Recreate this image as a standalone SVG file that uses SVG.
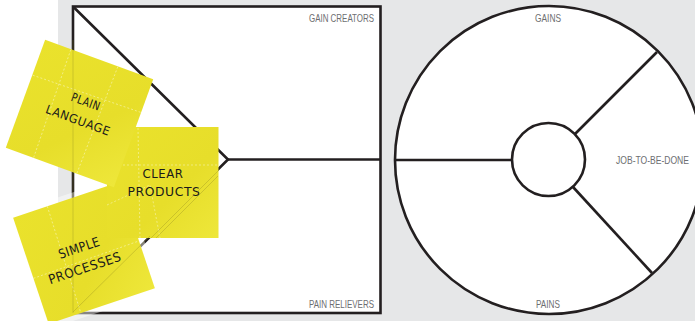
<svg xmlns="http://www.w3.org/2000/svg" width="695" height="321" viewBox="0 0 695 321">
  <defs>
    <style>
      .frame{fill:#fff;stroke:#231f20;stroke-width:2.6}
      .ln{fill:none;stroke:#231f20;stroke-width:2.6;stroke-linejoin:miter}
      .lbl{font-family:"Liberation Sans",Arial,sans-serif;font-size:11px;fill:#6d6e71}
      .hand{font-family:"DejaVu Sans Condensed","DejaVu Sans",sans-serif;font-size:12px;fill:#1a1a1a;letter-spacing:0.5px}
      .note{fill:url(#yel)}
      .halo{fill:#fff;opacity:0.45}
      .crease{fill:none;stroke:#fff;stroke-width:0.7;stroke-dasharray:2 2;opacity:0.55}
      .ghost{fill:none;stroke:#8a8420;stroke-width:0.8;opacity:0.4}
    </style>
    <linearGradient id="yel" x1="0" y1="0" x2="1" y2="1">
      <stop offset="0" stop-color="#eae22c"/>
      <stop offset="0.6" stop-color="#e7de2a"/>
      <stop offset="1" stop-color="#eee73a"/>
    </linearGradient>
  </defs>

  <rect x="0" y="0" width="695" height="321" fill="#e6e7e8"/>
  <rect x="0" y="0" width="58" height="321" fill="#ffffff"/>

  <g id="value-map">
    <rect class="frame" x="73" y="6.5" width="307.5" height="306.5"/>
    <text class="lbl" x="374" y="22" text-anchor="end" textLength="65" lengthAdjust="spacingAndGlyphs">GAIN CREATORS</text>
    <text class="lbl" x="374" y="308" text-anchor="end" textLength="65" lengthAdjust="spacingAndGlyphs">PAIN RELIEVERS</text>
  </g>

  <g id="customer-profile">
    <circle class="frame" cx="549" cy="160" r="154"/>
    <text class="lbl" x="548" y="22" text-anchor="middle" textLength="26" lengthAdjust="spacingAndGlyphs">GAINS</text>
    <text class="lbl" x="548" y="308" text-anchor="middle" textLength="24" lengthAdjust="spacingAndGlyphs">PAINS</text>
    <text class="lbl" x="616" y="164" textLength="73" lengthAdjust="spacingAndGlyphs">JOB-TO-BE-DONE</text>
  </g>

  <g id="connectors">
    <polyline class="ln" points="73.5,7 228,159.5 73.5,312.5"/>
    <line class="ln" x1="228" y1="159.5" x2="380" y2="159.5"/>
    <line class="ln" x1="395" y1="160" x2="512.5" y2="160"/>
    <line class="ln" x1="575" y1="134" x2="657" y2="52"/>
    <line class="ln" x1="573" y1="187" x2="652" y2="273"/>
  </g>

  <g id="job-circle">
    <circle class="frame" cx="548.5" cy="159.5" r="36.5"/>
  </g>

  <g id="note-simple-processes" transform="translate(84,253) rotate(-18.5)">
    <rect class="halo" x="-61" y="-61" width="122" height="122"/>
    <rect class="note" x="-56" y="-56" width="112" height="112"/>
    <path class="crease" d="M-56,8 L56,6 M-20,-56 L-22,56"/>
    <text class="hand" x="-3" y="-2" text-anchor="middle" textLength="43" lengthAdjust="spacingAndGlyphs" style="font-size:13px">SIMPLE</text>
    <text class="hand" x="-4" y="19" text-anchor="middle" textLength="76" lengthAdjust="spacingAndGlyphs" style="font-size:13px">PROCESSES</text>
  </g>

  <g id="note-clear-products">
    <rect class="note" x="107" y="127" width="111.5" height="111"/>
    <path class="crease" d="M107,165 L218,165 M138,128 L140,238 M107,205 L150,185 L160,238"/>
    <text class="hand" x="163" y="178" text-anchor="middle" textLength="41" lengthAdjust="spacingAndGlyphs">CLEAR</text>
    <text class="hand" x="164" y="196" text-anchor="middle" textLength="73" lengthAdjust="spacingAndGlyphs">PRODUCTS</text>
  </g>

  <g id="note-plain-language" transform="translate(79.5,113.5) rotate(20)">
    <rect class="note" x="-57.5" y="-57.5" width="115" height="115"/>
    <path class="crease" d="M-57,-20 L57,-22 M20,-57 L18,57 M-30,-57 L-28,57"/>
    <text class="hand" x="2" y="-9" text-anchor="middle" textLength="30" lengthAdjust="spacingAndGlyphs">PLAIN</text>
    <text class="hand" x="1" y="11" text-anchor="middle" textLength="68" lengthAdjust="spacingAndGlyphs">LANGUAGE</text>
  </g>

  <path class="ghost" d="M73,40 L73,313 M73,312 L150,236 M151,238 L218,171 M156,238 L218,176"/>
</svg>
